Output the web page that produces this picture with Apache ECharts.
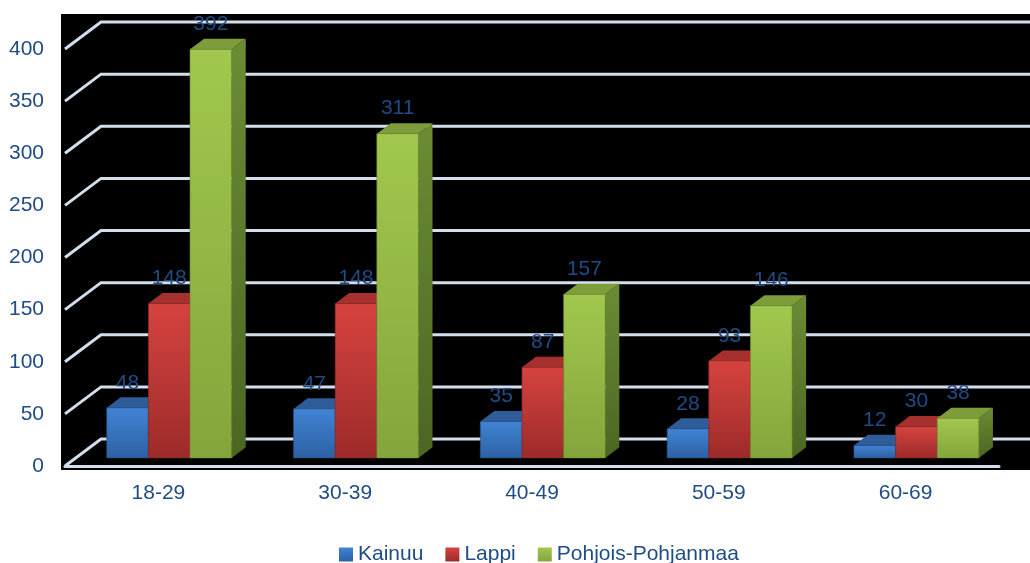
<!DOCTYPE html>
<html lang="fi">
<head>
<meta charset="UTF-8">
<title>Ikäryhmät</title>
<script src="https://cdn.jsdelivr.net/npm/echarts@6/dist/echarts.min.js"></script>
<style>
  html, body { margin: 0; padding: 0; background: #fff; }
  #chart { width: 1030px; height: 563px; }
</style>
</head>
<body>
<div id="chart"></div>
<script>
var categories = ['18-29', '30-39', '40-49', '50-59', '60-69'];
var kainuu = [48, 47, 35, 28, 12];
var lappi = [148, 148, 87, 93, 30];
var pohjois = [392, 311, 157, 146, 38];
var yTicks = [0, 50, 100, 150, 200, 250, 300, 350, 400];

var FONT = "'Liberation Sans Narrow', 'Arial Narrow', 'Liberation Sans', sans-serif";
var TEXT = '#1f4c86';
var LINE = '#d3deec';
// 3d depth of the floor, in pixels
var DX = 36, DY = 27;
var FRONT = 0.3, BAR_D = 0.39;

function grad(a, b) {
  return new echarts.graphic.LinearGradient(0, 0, 0, 1, [{offset: 0, color: a}, {offset: 1, color: b}]);
}
var looks = [
  {front: ['#4184d4', '#2c61a4'], top: '#2f5d99', side: ['#2a5592', '#1f426f'], edge: '#24508a'},
  {front: ['#d6433f', '#9c2b2a'], top: '#a6302e', side: ['#8c2927', '#6a1d1c'], edge: '#8a2624'},
  {front: ['#a2c74e', '#84a53b'], top: '#7d9c3a', side: ['#6b8c34', '#4c6623'], edge: '#6f8f33'}
];

function barItem(k) {
  return function (params, api) {
    var ci = api.value(0), v = api.value(1);
    var base = api.coord([ci, 0]);
    var top = api.coord([ci, v]);
    var bw = api.size([1, 0])[0] * 0.223;
    var x0 = base[0] + FRONT * DX - 1.5 * bw + k * bw;
    var y0 = base[1] - FRONT * DY;
    var y1 = top[1] - FRONT * DY;
    var ddx = BAR_D * DX, ddy = BAR_D * DY;
    var c = looks[k];
    return {
      type: 'group',
      children: [
        {type: 'polygon', shape: {points: [[x0 + bw, y1], [x0 + bw + ddx, y1 - ddy], [x0 + bw + ddx, y0 - ddy], [x0 + bw, y0]]},
          style: {fill: grad(c.side[0], c.side[1])}},
        {type: 'polygon', shape: {points: [[x0, y1], [x0 + ddx, y1 - ddy], [x0 + bw + ddx, y1 - ddy], [x0 + bw, y1]]},
          style: {fill: c.top}},
        {type: 'rect', shape: {x: x0, y: y1, width: bw, height: y0 - y1},
          style: {fill: grad(c.front[0], c.front[1]), stroke: c.edge, lineWidth: 0.6}},
        {type: 'text', z2: 10, style: {text: String(v), x: x0 + bw / 2, y: y1 - 25,
          align: 'center', verticalAlign: 'middle', font: '21px ' + FONT, fill: TEXT}}
      ]
    };
  };
}

function wallItem(params, api) {
  var y = api.coord([0, api.value(1)])[1];
  var left = params.coordSys.x;
  return {
    type: 'polyline',
    shape: {points: [[left, y], [left + DX, y - DY], [api.getWidth(), y - DY]]},
    style: {stroke: LINE, lineWidth: 3, fill: null}
  };
}

function pairs(arr) {
  return arr.map(function (v, i) { return [i, v]; });
}

var chart = echarts.init(document.getElementById('chart'));
chart.setOption({
  animation: false,
  graphic: [{type: 'rect', left: 61, top: 14, shape: {width: 969, height: 456}, style: {fill: '#000'}, z: -1}],
  grid: {left: 65, right: 31, top: 49, bottom: 97},
  legend: {
    top: 539, left: 334,
    icon: 'rect', itemWidth: 14, itemHeight: 14, itemGap: 22,
    textStyle: {color: TEXT, fontSize: 21, fontFamily: FONT},
    data: ['Kainuu', 'Lappi', 'Pohjois-Pohjanmaa']
  },
  xAxis: {
    type: 'category', data: categories,
    axisTick: {show: false},
    axisLine: {lineStyle: {color: LINE, width: 3}},
    axisLabel: {color: TEXT, fontSize: 21, fontFamily: FONT, margin: 17}
  },
  yAxis: {
    type: 'value', min: 0, max: 400, interval: 50,
    splitLine: {show: false}, axisLine: {show: false}, axisTick: {show: false},
    axisLabel: {color: TEXT, fontSize: 21, fontFamily: FONT, margin: 21}
  },
  series: [
    {type: 'custom', name: 'wall', renderItem: wallItem, data: yTicks.map(function (v) { return [0, v]; }),
      encode: {x: 0, y: 1}, silent: true, z: 1},
    {type: 'custom', name: 'Kainuu', renderItem: barItem(0), data: pairs(kainuu), encode: {x: 0, y: 1},
      itemStyle: {color: grad(looks[0].front[0], looks[0].front[1])}, z: 3},
    {type: 'custom', name: 'Lappi', renderItem: barItem(1), data: pairs(lappi), encode: {x: 0, y: 1},
      itemStyle: {color: grad(looks[1].front[0], looks[1].front[1])}, z: 4},
    {type: 'custom', name: 'Pohjois-Pohjanmaa', renderItem: barItem(2), data: pairs(pohjois), encode: {x: 0, y: 1},
      itemStyle: {color: grad(looks[2].front[0], looks[2].front[1])}, z: 5}
  ]
});
</script>
</body>
</html>
